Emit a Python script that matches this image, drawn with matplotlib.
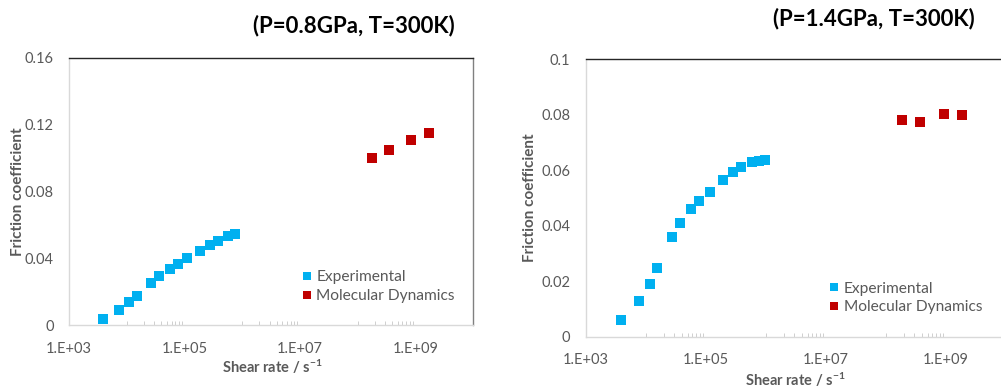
import matplotlib.pyplot as plt
from matplotlib.lines import Line2D
from matplotlib.ticker import FixedLocator, NullFormatter

plt.rcParams['font.family'] = ['Lato', 'DejaVu Sans']
plt.rcParams['mathtext.fontset'] = 'custom'
plt.rcParams['mathtext.rm'] = 'Lato'
plt.rcParams['mathtext.bf'] = 'Lato:bold'
plt.rcParams['mathtext.default'] = 'regular'

# data
exp_rate_08 = [3.9e3, 7.5e3, 1.1e4, 1.5e4, 2.6e4, 3.7e4, 5.6e4, 7.6e4,
               1.13e5, 1.86e5, 2.8e5, 3.8e5, 5.6e5, 7.5e5]
exp_mu_08 = [0.0036, 0.009, 0.014, 0.0176, 0.025, 0.0294, 0.0338, 0.0364,
             0.040, 0.0446, 0.048, 0.0504, 0.0534, 0.0544]
md_rate_08 = [1.75e8, 3.5e8, 8.5e8, 1.72e9]
md_mu_08 = [0.100, 0.1046, 0.1106, 0.115]

exp_rate_14 = [3.9e3, 7.7e3, 1.17e4, 1.56e4, 2.7e4, 3.8e4, 5.8e4, 7.7e4,
               1.17e5, 1.94e5, 2.9e5, 3.9e5, 5.9e5, 7.8e5, 9.9e5]
exp_mu_14 = [0.0061, 0.0128, 0.019, 0.0246, 0.0358, 0.0411, 0.0459, 0.0487,
             0.0521, 0.0563, 0.0593, 0.061, 0.0628, 0.0634, 0.0636]
md_rate_14 = [1.9e8, 3.8e8, 9.4e8, 1.9e9]
md_mu_14 = [0.078, 0.0772, 0.0801, 0.0797]

titles = ['(P=0.8GPa, T=300K)', '(P=1.4GPa, T=300K)']
xticks = [1e3, 1e5, 1e7, 1e9]
xticklabels = ['1.E+03', '1.E+05', '1.E+07', '1.E+09']
yticks_08 = [0, 0.04, 0.08, 0.12, 0.16]
yticks_14 = [0, 0.02, 0.04, 0.06, 0.08, 0.1]
yticklabels_08 = ['0', '0.04', '0.08', '0.12', '0.16']
yticklabels_14 = ['0', '0.02', '0.04', '0.06', '0.08', '0.1']

blue = '#00b0f0'
red = '#c00000'
grey = '#595959'

fig = plt.figure(figsize=(10.01, 3.89), dpi=100)
ax1 = fig.add_axes([0.0689, 0.1645, 0.4036, 0.6864])
ax2 = fig.add_axes([0.5851, 0.1344, 0.4196, 0.7139])

minor = [k * 10.0 ** d for d in (4, 6, 8) for k in range(1, 10)]

panels = [
    (ax1, exp_rate_08, exp_mu_08, md_rate_08, md_mu_08, yticks_08, yticklabels_08, 0.16,
     (-0.126, 0.5), (0.502, -0.157), (0.535, 0.03)),
    (ax2, exp_rate_14, exp_mu_14, md_rate_14, md_mu_14, yticks_14, yticklabels_14, 0.1,
     (-0.133, 0.5), (0.498, -0.156), (0.54, 0.03)),
]

for ax, xr, yr, xm, ym, yt, ytl, ymax, ylc, xlc, lg in panels:
    ax.plot(xr, yr, 's', color=blue, markersize=6.8, markeredgewidth=0)
    ax.plot(xm, ym, 's', color=red, markersize=6.8, markeredgewidth=0)
    ax.set_xscale('log')
    ax.set_xlim(1e3, 1e10)
    ax.set_ylim(0, ymax)
    ax.set_xticks(xticks)
    ax.set_xticklabels(xticklabels)
    ax.xaxis.set_minor_locator(FixedLocator(minor))
    ax.xaxis.set_minor_formatter(NullFormatter())
    ax.set_yticks(yt)
    ax.set_yticklabels(ytl)
    ax.tick_params(axis='x', which='major', length=0, pad=12, labelsize=10.5, labelcolor=grey)
    ax.tick_params(axis='x', which='minor', direction='in', length=3, width=0.6, color='#c8c8c8')
    ax.tick_params(axis='y', length=0, pad=11, labelsize=10.5, labelcolor=grey)
    for s in ('left', 'bottom'):
        ax.spines[s].set_color('#d9d9d9')
        ax.spines[s].set_linewidth(1.0)
    ax.spines['top'].set_color('#262626')
    ax.spines['top'].set_linewidth(1.0)
    ax.spines['right'].set_color('#808080')
    ax.spines['right'].set_linewidth(1.0)
    ax.set_xlabel('Shear rate / s$^{-1}$', fontsize=10.5, fontweight='bold', color=grey)
    ax.set_ylabel('Friction coefficient', fontsize=11, fontweight='bold', color=grey)
    ax.yaxis.set_label_coords(*ylc)
    ax.xaxis.set_label_coords(*xlc)
    ax.xaxis.label.set_va('center')
    ax.yaxis.label.set_va('center')
    handles = [Line2D([], [], marker='s', ls='', color=blue, markersize=6, markeredgewidth=0),
               Line2D([], [], marker='s', ls='', color=red, markersize=6, markeredgewidth=0)]
    ax.legend(handles, ['Experimental', 'Molecular Dynamics'], loc='lower left',
              bbox_to_anchor=lg, frameon=False, fontsize=11.2,
              handletextpad=0.1, handlelength=1.0, labelspacing=0.3, labelcolor=grey)

fig.text(0.354, 0.935, titles[0], ha='center', va='center', fontsize=16, fontweight='bold')
fig.text(0.873, 0.953, titles[1], ha='center', va='center', fontsize=16, fontweight='bold')

fig.savefig('out.png', dpi=100)
